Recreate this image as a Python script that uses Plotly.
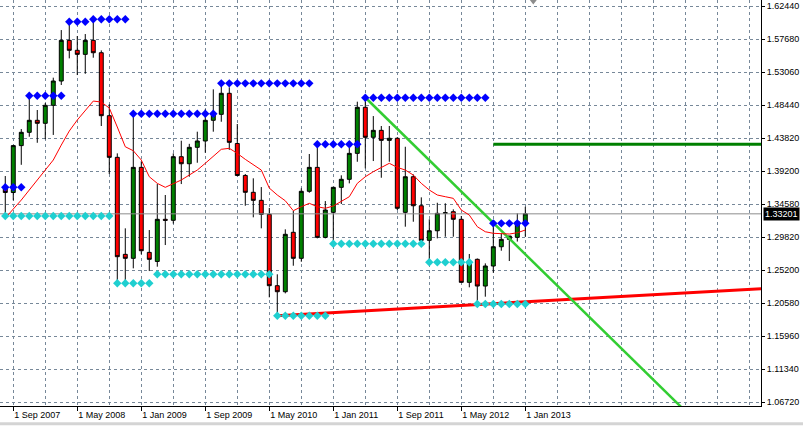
import plotly.graph_objects as go

# monthly bars, Aug 2007 .. Jan 2013
months = ["Aug 2007", "Sep 2007", "Oct 2007", "Nov 2007", "Dec 2007", "Jan 2008", "Feb 2008", "Mar 2008",
          "Apr 2008", "May 2008", "Jun 2008", "Jul 2008", "Aug 2008", "Sep 2008", "Oct 2008", "Nov 2008",
          "Dec 2008", "Jan 2009", "Feb 2009", "Mar 2009", "Apr 2009", "May 2009", "Jun 2009", "Jul 2009",
          "Aug 2009", "Sep 2009", "Oct 2009", "Nov 2009", "Dec 2009", "Jan 2010", "Feb 2010", "Mar 2010",
          "Apr 2010", "May 2010", "Jun 2010", "Jul 2010", "Aug 2010", "Sep 2010", "Oct 2010", "Nov 2010",
          "Dec 2010", "Jan 2011", "Feb 2011", "Mar 2011", "Apr 2011", "May 2011", "Jun 2011", "Jul 2011",
          "Aug 2011", "Sep 2011", "Oct 2011", "Nov 2011", "Dec 2011", "Jan 2012", "Feb 2012", "Mar 2012",
          "Apr 2012", "May 2012", "Jun 2012", "Jul 2012", "Aug 2012", "Sep 2012", "Oct 2012", "Nov 2012",
          "Dec 2012", "Jan 2013"]

open_ = [1.3687, 1.3620, 1.4280, 1.4467, 1.4636, 1.4594, 1.4847, 1.5189, 1.5761, 1.5621, 1.5564, 1.5761,
         1.5587, 1.4701, 1.4115, 1.2750, 1.2694, 1.3974, 1.2778, 1.2650, 1.3243, 1.3229, 1.4124, 1.4025,
         1.4256, 1.4345, 1.4636, 1.4720, 1.5016, 1.4310, 1.3860, 1.3623, 1.3510, 1.3313, 1.2309, 1.2224,
         1.3060, 1.2694, 1.3637, 1.3974, 1.2989, 1.3341, 1.3693, 1.3806, 1.4171, 1.4819, 1.4397, 1.4495,
         1.4354, 1.4383, 1.3341, 1.3842, 1.3434, 1.2947, 1.3082, 1.3327, 1.3350, 1.3243, 1.2356, 1.2680,
         1.2304, 1.2586, 1.2857, 1.2961, 1.2989, 1.3196]
high = [1.3852, 1.4290, 1.4513, 1.4967, 1.4781, 1.4880, 1.5236, 1.5906, 1.6019, 1.5822, 1.5850, 1.6038,
        1.5620, 1.4861, 1.4171, 1.3116, 1.4734, 1.4060, 1.3092, 1.3739, 1.3585, 1.4171, 1.4349, 1.4305,
        1.4476, 1.4790, 1.5072, 1.5144, 1.5100, 1.4584, 1.3880, 1.3820, 1.3697, 1.3403, 1.2469, 1.3102,
        1.3360, 1.3679, 1.4162, 1.4285, 1.3500, 1.3700, 1.3862, 1.4249, 1.4898, 1.4940, 1.4696, 1.4556,
        1.4556, 1.4400, 1.4264, 1.3875, 1.3552, 1.3243, 1.3476, 1.3468, 1.3383, 1.3290, 1.2755, 1.2692,
        1.2623, 1.3186, 1.3046, 1.3008, 1.3327, 1.3420]
low = [1.3300, 1.3510, 1.4010, 1.4405, 1.4320, 1.4370, 1.4430, 1.5133, 1.5508, 1.5273, 1.5291, 1.5517,
       1.4556, 1.3880, 1.2365, 1.2365, 1.2553, 1.2750, 1.2515, 1.2576, 1.2881, 1.3182, 1.3739, 1.3842,
       1.4039, 1.4180, 1.4476, 1.4616, 1.4220, 1.3850, 1.3434, 1.3271, 1.3116, 1.2145, 1.1886, 1.2201,
       1.2590, 1.2646, 1.3617, 1.2975, 1.2975, 1.2871, 1.3458, 1.3749, 1.4053, 1.3960, 1.4063, 1.3828,
       1.4053, 1.3374, 1.3139, 1.3209, 1.2945, 1.2646, 1.2975, 1.2998, 1.2998, 1.2354, 1.2286, 1.2069,
       1.2154, 1.2491, 1.2801, 1.2656, 1.2930, 1.2998]
close = [1.3620, 1.4280, 1.4467, 1.4636, 1.4594, 1.4847, 1.5189, 1.5761, 1.5621, 1.5564, 1.5761, 1.5587,
         1.4701, 1.4115, 1.2717, 1.2694, 1.3974, 1.2801, 1.2680, 1.3243, 1.3229, 1.4124, 1.4025, 1.4256,
         1.4345, 1.4636, 1.4720, 1.5016, 1.4326, 1.3860, 1.3623, 1.3510, 1.3313, 1.2309, 1.2224, 1.3032,
         1.2694, 1.3637, 1.3974, 1.2989, 1.3374, 1.3693, 1.3806, 1.4171, 1.4819, 1.4397, 1.4495, 1.4354,
         1.4383, 1.3398, 1.3842, 1.3434, 1.2947, 1.3082, 1.3327, 1.3335, 1.3243, 1.2356, 1.2632, 1.2304,
         1.2586, 1.2857, 1.2961, 1.3008, 1.3209, 1.33201]

# red moving average
ma = [1.3261, 1.3381, 1.3514, 1.3655, 1.3796, 1.3936, 1.4077, 1.4288, 1.4485, 1.4640, 1.4767, 1.4907,
      1.4893, 1.4809, 1.4542, 1.4264, 1.4208, 1.4077, 1.3842, 1.3749, 1.3693, 1.3739, 1.3796, 1.3866,
      1.3936, 1.4031, 1.4124, 1.4228, 1.4242, 1.4171, 1.4087, 1.4007, 1.3936, 1.3683, 1.3585, 1.3504,
      1.3364, 1.3420, 1.3468, 1.3420, 1.3398, 1.3430, 1.3490, 1.3561, 1.3749, 1.3842, 1.3913, 1.3974,
      1.4031, 1.3974, 1.3936, 1.3866, 1.3749, 1.3655, 1.3585, 1.3561, 1.3538, 1.3374, 1.3303, 1.3139,
      1.3068, 1.3046, 1.3036, 1.3036, 1.3054, 1.3092]

# fractal levels (blue = resistance, cyan = support)
res_level = [1.3693] * 3 + [1.4982] * 5 + [1.6023] * 3 + [1.6057] * 5 + [1.4729] * 11 + \
            [1.5156] * 12 + [1.4298] * 6 + [1.4954] * 16 + [1.3186] * 5
sup_level = [1.3289] * 14 + [1.2342] * 5 + [1.2469] * 15 + [1.1886] * 7 + [1.2899] * 12 + \
            [1.2638] * 6 + [1.2051] * 7

# drawn objects
trend_down_x, trend_down_y = [45, 86], [1.4957, 1.0434]
trend_up_x, trend_up_y = [34, 95], [1.1886, 1.2270]
hline_x, hline_y = [61, 95], [1.4298, 1.4298]
last_price = 1.33201

y_ticktext = ["1.06720", "1.11340", "1.15960", "1.20580", "1.25200", "1.29820", "1.34580",
              "1.39200", "1.43820", "1.48440", "1.53060", "1.57680", "1.62440"]
y_tickvals = [1.0672 + k * 0.046433 for k in range(len(y_ticktext))]

idx = list(range(len(months)))
x_tickvals = idx[1::8]
x_ticktext = ["1 " + months[i] for i in x_tickvals]

grid = "#778899"
fnt = "Liberation Sans, Arial, sans-serif"

fig = go.Figure()

fig.add_trace(go.Scatter(x=[-1, 96], y=[last_price, last_price], mode="lines",
                         line=dict(color="#8c8c8c", width=1), hoverinfo="skip"))

fig.add_trace(go.Scatter(x=hline_x, y=hline_y, mode="lines",
                         line=dict(color="#008000", width=3)))
fig.add_trace(go.Scatter(x=trend_up_x, y=trend_up_y, mode="lines",
                         line=dict(color="#ff0000", width=3)))
fig.add_trace(go.Scatter(x=trend_down_x, y=trend_down_y, mode="lines",
                         line=dict(color="#32cd32", width=2.5)))

fig.add_trace(go.Scatter(x=idx, y=ma, mode="lines", line=dict(color="#ff0000", width=1)))

fig.add_trace(go.Candlestick(x=idx, open=open_, high=high, low=low, close=close,
                             increasing=dict(line=dict(color="black", width=1), fillcolor="#008000"),
                             decreasing=dict(line=dict(color="black", width=1), fillcolor="#ff0000"),
                             whiskerwidth=0, hoverinfo="skip"))

fig.add_trace(go.Scatter(x=idx, y=res_level, mode="markers",
                         marker=dict(symbol="diamond", size=6.5, color="#0000ff")))
fig.add_trace(go.Scatter(x=idx, y=sup_level, mode="markers",
                         marker=dict(symbol="diamond", size=6.5, color="#1fcfd0")))

# chart shift marker
fig.add_trace(go.Scatter(x=[len(months)], y=[1.6329], mode="markers", cliponaxis=False,
                         marker=dict(symbol="triangle-down", size=9, color="#8c8c8c")))

fig.add_annotation(x=1, xref="paper", xanchor="left", xshift=2, y=last_price, yref="y",
                   text="1.33201", showarrow=False, bgcolor="black", borderpad=1,
                   font=dict(color="white", size=9, family=fnt))

fig.add_shape(type="line", xref="paper", yref="paper", x0=-0.01, x1=1.07, y0=-0.044, y1=-0.044,
              line=dict(color="#d4d4d4", width=3))

fig.update_layout(
    width=803, height=426,
    margin=dict(l=0, r=42, t=0, b=20),
    paper_bgcolor="white", plot_bgcolor="white",
    showlegend=False,
    font=dict(family=fnt, size=9, color="black"),
)
fig.update_xaxes(
    range=[-0.66, 94.46], rangeslider_visible=False,
    tickmode="array", tickvals=x_tickvals, ticktext=x_ticktext,
    ticklabelposition="outside right", ticks="outside", ticklen=4, tickcolor="black",
    showline=True, mirror=True, linecolor="black", linewidth=1,
    showgrid=True, gridcolor=grid, griddash="3px,3px", gridwidth=1,
    minor=dict(tick0=1, dtick=4, showgrid=True, gridcolor=grid, griddash="3px,3px", ticks=""),
    zeroline=False,
)
fig.update_yaxes(
    range=[1.0616, 1.6329], side="right",
    tickmode="array", tickvals=y_tickvals, ticktext=y_ticktext,
    ticks="outside", ticklen=3, tickcolor="black",
    showline=True, linecolor="black", linewidth=1,
    showgrid=True, gridcolor=grid, griddash="3px,3px", gridwidth=1,
    zeroline=False,
)

fig.write_html("out.html", config={"displayModeBar": False},
               post_script="document.body.style.margin='0';")
